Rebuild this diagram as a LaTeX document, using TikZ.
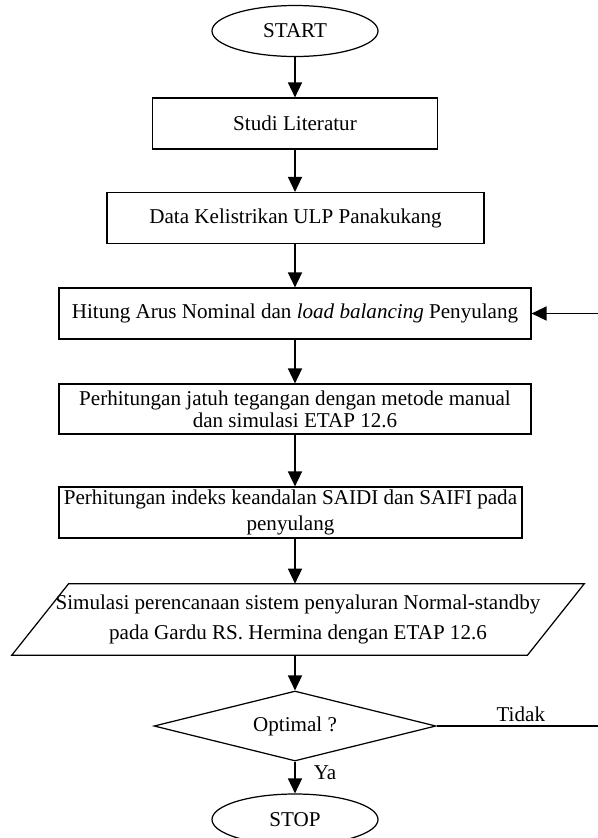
\documentclass[tikz,border=0pt]{standalone}
\usepackage{fontspec}
\setmainfont{Liberation Serif}
\usetikzlibrary{arrows.meta,positioning,shapes.geometric}

\begin{document}
\begin{tikzpicture}[
      myellipse/.style={
         ellipse,
         draw=black,
         line width=0.7pt,
         inner sep=0pt,
         minimum width=3.32cm,
         minimum height=1.02cm},
      mybox/.style={
         rectangle,
         draw=black,
         line width=0.7pt,
         align=center,
         inner sep=0pt,
         minimum height=1.02cm},
      mypara/.style={
         rectangle,
         align=center,
         inner sep=0pt,
         minimum width=10.3cm,
         minimum height=1.42cm},
      mydiamond/.style={
         diamond,
         aspect=4,
         draw=black,
         line width=0.7pt,
         inner sep=0pt,
         minimum width=5.64cm,
         minimum height=1.4cm},
      myarrow/.style={line width=0.7pt,-{Triangle[length=8.5pt,width=8pt]}},
      font=\fontsize{12}{14}\selectfont
      ]
      \useasboundingbox (0,0) rectangle (11.96,-16.76);
      \node[myellipse] (start) at (5.9,-0.62) {START};
      \node[mybox,minimum width=5.7cm] (studi) at (5.9,-2.47) {Studi Literatur};
      \node[mybox,minimum width=7.54cm] (data) at (5.91,-4.36) {Data Kelistrikan ULP Panakukang};
      \node[mybox,minimum width=9.44cm] (hitung) at (5.9,-6.27)
         {Hitung Arus Nominal dan \textit{load balancing} Penyulang};
      \node[mybox,minimum width=9.44cm,minimum height=1.0cm,font=\fontsize{12}{12.5}\selectfont] (jatuh) at (5.9,-8.18)
         {Perhitungan jatuh tegangan dengan metode manual\\dan simulasi ETAP 12.6};
      \node[mybox,minimum width=9.26cm,font=\fontsize{12}{15}\selectfont] (indeks) at (5.81,-10.25)
         {Perhitungan indeks keandalan SAIDI dan SAIFI pada\\penyulang};
      \node[mypara,font=\fontsize{12}{17}\selectfont] (simulasi) at (5.96,-12.39)
         {Simulasi perencanaan sistem penyaluran Normal-standby\\pada Gardu RS. Hermina dengan ETAP 12.6};
      % slanted sides of the input/output box
      \draw[line width=0.7pt] ([xshift=0.57cm]simulasi.north west) -- ([xshift=0.57cm]simulasi.north east)
         -- ([xshift=-0.57cm]simulasi.south east) -- ([xshift=-0.57cm]simulasi.south west) -- cycle;
      \node[mydiamond] (optimal) at (5.9,-14.52) {Optimal ?};
      \node[myellipse] (stop) at (5.9,-16.39) {STOP};
      \coordinate (back) at (12.1,-14.52);
    \foreach \i/\j in {% start node/end node
      start/studi,
      studi/data,
      data/hitung,
      hitung/jatuh,
      jatuh/indeks,
      indeks/simulasi,
      simulasi/optimal}
       \draw [myarrow] (\i.south -| start) -- (\j.north -| start);
      \draw [myarrow] (optimal) -- node[right=7pt,pos=0.35] {Ya} (stop);
      % loop back when not optimal
      \draw [myarrow] (optimal.east) -- node[above=-1pt] {Tidak} (back) |- (hitung.east);
\end{tikzpicture}
\end{document}
